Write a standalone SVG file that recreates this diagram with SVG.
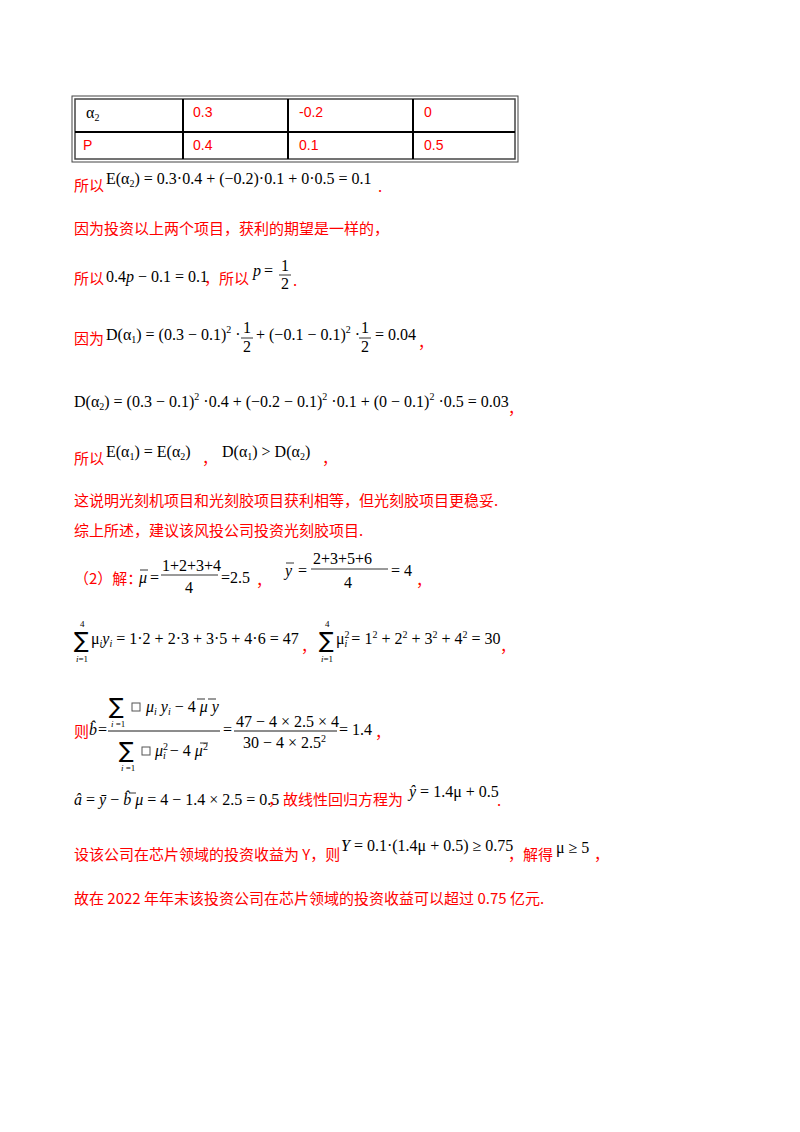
<svg xmlns="http://www.w3.org/2000/svg" width="800" height="1132" viewBox="0 0 800 1132">
<style>
.r{fill:#ff0000;font-family:"Noto Sans CJK SC","Liberation Serif",serif;font-size:15px}
.rt{fill:#ff0000;font-family:"Liberation Sans",sans-serif;font-size:14px}
.m{fill:#000;font-family:"Liberation Serif",serif;font-size:16px}
.s{font-size:10px}
.sg{fill:#000;font-family:"DejaVu Sans",sans-serif;font-size:22px}
.ix{fill:#000;font-family:"Liberation Serif",serif;font-size:9px}
line{stroke:#000}
</style>
<rect width="800" height="1132" fill="#fff"/>
<g id="table" fill="none" stroke="#444">
<rect x="72" y="96" width="446" height="66" stroke-width="1"/>
<rect x="75" y="99" width="440" height="60" stroke-width="1.5"/>
<line x1="75" y1="132" x2="515" y2="132" stroke-width="2" stroke="#444"/>
<line x1="183" y1="99" x2="183" y2="159" stroke-width="2" stroke="#444"/>
<line x1="288" y1="99" x2="288" y2="159" stroke-width="2" stroke="#444"/>
<line x1="413" y1="99" x2="413" y2="159" stroke-width="2" stroke="#444"/>
</g>
<text x="86" y="118" class="m" font-size="15">α<tspan class="s" dy="3">2</tspan></text>
<text x="193" y="117" class="rt">0.3</text>
<text x="299" y="117" class="rt">-0.2</text>
<text x="424" y="117" class="rt">0</text>
<text x="83" y="150" class="rt">P</text>
<text x="193" y="150" class="rt">0.4</text>
<text x="299" y="150" class="rt">0.1</text>
<text x="424" y="150" class="rt">0.5</text>

<text x="74" y="191" class="r">所以</text>
<text x="106" y="184" class="m">E(α<tspan class="s" dy="3">2</tspan><tspan dy="-3">) = 0.3·0.4 + (−0.2)·0.1 + 0·0.5 = 0.1</tspan></text>
<text x="378" y="192" class="r">.</text>

<text x="74" y="234" class="r">因为投资以上两个项目，获利的期望是一样的，</text>

<text x="74" y="284" class="r">所以</text>
<text x="106" y="282" class="m">0.4<tspan font-style="italic">p</tspan> − 0.1 = 0.1</text>
<text x="204" y="284" class="r">，所以</text>
<text x="253" y="276" class="m" font-style="italic">p</text><text x="264" y="276" class="m">=</text>
<text x="281" y="271" class="m" font-size="14">1</text>
<line x1="279" y1="275" x2="291" y2="275" stroke-width="0.8"/>
<text x="281" y="289" class="m" font-size="14">2</text>
<text x="293" y="286" class="r">.</text>

<text x="74" y="344" class="r">因为</text>
<text x="106" y="340" class="m">D(α<tspan class="s" dy="3">1</tspan><tspan dy="-3">) = (0.3 − 0.1)</tspan><tspan class="s" dy="-7">2</tspan><tspan dy="7"> ·</tspan></text>
<text x="243" y="333" class="m" font-size="14">1</text>
<line x1="241" y1="338" x2="253" y2="338" stroke-width="0.8"/>
<text x="243" y="352" class="m" font-size="14">2</text>
<text x="256" y="340" class="m">+ (−0.1 − 0.1)<tspan class="s" dy="-7">2</tspan><tspan dy="7"> ·</tspan></text>
<text x="361" y="333" class="m" font-size="14">1</text>
<line x1="359" y1="338" x2="371" y2="338" stroke-width="0.8"/>
<text x="361" y="352" class="m" font-size="14">2</text>
<text x="375" y="340" class="m">= 0.04</text>
<text x="418" y="348" class="r">，</text>

<text x="74" y="407" class="m">D(α<tspan class="s" dy="3">2</tspan><tspan dy="-3">) = (0.3 − 0.1)</tspan><tspan class="s" dy="-7">2</tspan><tspan dy="7"> ·0.4 + (−0.2 − 0.1)</tspan><tspan class="s" dy="-7">2</tspan><tspan dy="7"> ·0.1 + (0 − 0.1)</tspan><tspan class="s" dy="-7">2</tspan><tspan dy="7"> ·0.5 = 0.03</tspan></text>
<text x="508" y="414" class="r">，</text>

<text x="74" y="464" class="r">所以</text>
<text x="106" y="457" class="m">E(α<tspan class="s" dy="3">1</tspan><tspan dy="-3">) = E(α</tspan><tspan class="s" dy="3">2</tspan><tspan dy="-3">)</tspan></text>
<text x="202" y="464" class="r">，</text>
<text x="222" y="457" class="m">D(α<tspan class="s" dy="3">1</tspan><tspan dy="-3">) &gt; D(α</tspan><tspan class="s" dy="3">2</tspan><tspan dy="-3">)</tspan></text>
<text x="322" y="464" class="r">，</text>

<text x="74" y="506" class="r">这说明光刻机项目和光刻胶项目获利相等，但光刻胶项目更稳妥.</text>
<text x="74" y="536" class="r">综上所述，建议该风投公司投资光刻胶项目.</text>

<text x="74" y="584" class="r">（2）解：</text>
<text x="139" y="583" class="m" font-style="italic">μ</text>
<line x1="140" y1="570" x2="148" y2="570" stroke-width="0.8"/>
<text x="150" y="583" class="m">=</text>
<text x="162" y="571" class="m" font-size="14">1+2+3+4</text>
<line x1="161" y1="575" x2="218" y2="575" stroke-width="0.8"/>
<text x="185" y="593" class="m" font-size="14">4</text>
<text x="221" y="583" class="m">=2.5</text>
<text x="256" y="586" class="r">，</text>
<text x="285" y="576" class="m" font-style="italic">y</text>
<line x1="286" y1="563" x2="294" y2="563" stroke-width="0.8"/>
<text x="298" y="576" class="m">=</text>
<text x="313" y="564" class="m" font-size="14">2+3+5+6</text>
<line x1="311" y1="569" x2="388" y2="569" stroke-width="0.8"/>
<text x="344" y="588" class="m" font-size="14">4</text>
<text x="391" y="576" class="m">= 4</text>
<text x="416" y="586" class="r">，</text>

<text x="80" y="627" class="ix">4</text>
<text x="74" y="648" class="sg">∑</text>
<text x="76" y="662" class="ix"><tspan font-style="italic">i</tspan>=1</text>
<text x="91" y="644" class="m">μ<tspan class="s" dy="3" font-style="italic">i</tspan><tspan dy="-3" font-style="italic">y</tspan><tspan class="s" dy="3" font-style="italic">i</tspan><tspan dy="-3"> = 1·2 + 2·3 + 3·5 + 4·6 = 47</tspan></text>
<text x="301" y="652" class="r">，</text>
<text x="325" y="627" class="ix">4</text>
<text x="319" y="648" class="sg">∑</text>
<text x="321" y="662" class="ix"><tspan font-style="italic">i</tspan>=1</text>
<text x="336" y="644" class="m">μ<tspan class="s" dy="-6">2</tspan><tspan class="s" dx="-5" dy="9" font-style="italic">i</tspan><tspan dy="-3"> = 1</tspan><tspan class="s" dy="-6">2</tspan><tspan dy="6"> + 2</tspan><tspan class="s" dy="-6">2</tspan><tspan dy="6"> + 3</tspan><tspan class="s" dy="-6">2</tspan><tspan dy="6"> + 4</tspan><tspan class="s" dy="-6">2</tspan><tspan dy="6"> = 30</tspan></text>
<text x="500" y="652" class="r">，</text>

<text x="74" y="737" class="r">则</text>
<text x="89" y="735" class="m" font-style="italic">b̂</text><text x="98" y="735" class="m">=</text>
<text x="109" y="714" class="sg">∑</text>
<text x="111" y="727" class="ix"><tspan font-style="italic">i</tspan> =1</text>
<rect x="132" y="703" width="8" height="8" fill="none" stroke="#555"/>
<text x="146" y="712" class="m" font-style="italic">μ<tspan class="s" dy="3">i</tspan><tspan dy="-3"> y</tspan><tspan class="s" dy="3">i</tspan><tspan dy="-3" font-style="normal"> − 4 </tspan>μ  y</text>
<line x1="197" y1="699" x2="205" y2="699" stroke-width="0.8"/>
<line x1="208" y1="699" x2="216" y2="699" stroke-width="0.8"/>
<line x1="108" y1="731" x2="220" y2="731" stroke-width="0.9"/>
<text x="119" y="758" class="sg">∑</text>
<text x="121" y="771" class="ix"><tspan font-style="italic">i</tspan> =1</text>
<rect x="142" y="747" width="8" height="8" fill="none" stroke="#555"/>
<text x="155" y="756" class="m" font-style="italic">μ<tspan class="s" dy="-6" font-style="normal">2</tspan><tspan class="s" dx="-5" dy="9">i</tspan><tspan dy="-3" font-style="normal"> − 4 </tspan>μ<tspan class="s" dy="-6" font-style="normal">2</tspan></text>
<line x1="200" y1="743" x2="208" y2="743" stroke-width="0.8"/>
<text x="223" y="735" class="m">=</text>
<text x="236" y="727" class="m" font-size="15">47 − 4 × 2.5 × 4</text>
<line x1="234" y1="731" x2="337" y2="731" stroke-width="0.9"/>
<text x="243" y="748" class="m" font-size="15">30 − 4 × 2.5<tspan class="s" dy="-6">2</tspan></text>
<text x="339" y="735" class="m">= 1.4</text>
<text x="375" y="738" class="r">，</text>

<text x="74" y="805" class="m" font-size="14"><tspan font-style="italic">â</tspan> = <tspan font-style="italic">ȳ</tspan> − <tspan font-style="italic">b̂</tspan> <tspan font-style="italic">μ</tspan> = 4 − 1.4 × 2.5 = 0.5</text>
<line x1="129" y1="793" x2="136" y2="793" stroke-width="0.8"/>
<text x="268" y="805" class="r">，故线性回归方程为</text>
<text x="409" y="797" class="m"><tspan font-style="italic">ŷ</tspan> = 1.4μ + 0.5</text>
<text x="497" y="806" class="r">.</text>

<text x="74" y="860" class="r">设该公司在芯片领域的投资收益为 Y，则</text>
<text x="341" y="851" class="m"><tspan font-style="italic">Y</tspan> = 0.1·(1.4μ + 0.5) ≥ 0.75</text>
<text x="508" y="860" class="r">，解得</text>
<text x="556" y="853" class="m">μ ≥ 5</text>
<text x="594" y="860" class="r">，</text>

<text x="74" y="904" class="r">故在 2022 年年末该投资公司在芯片领域的投资收益可以超过 0.75 亿元.</text>
</svg>
